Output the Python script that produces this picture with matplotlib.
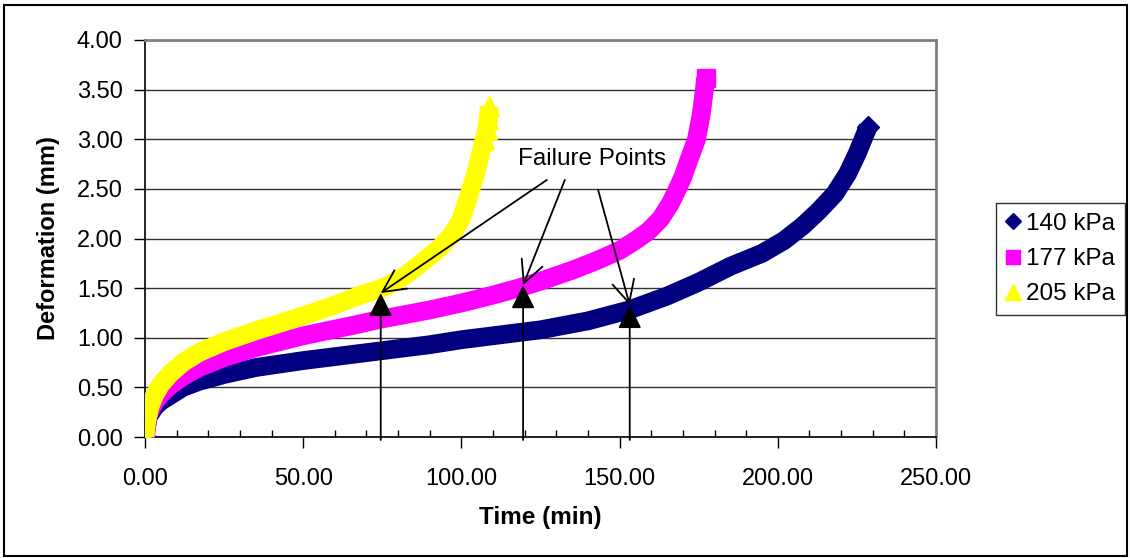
import matplotlib
matplotlib.use("Agg")
import matplotlib.pyplot as plt
from matplotlib.patches import Rectangle
from matplotlib.lines import Line2D

plt.rcParams['font.family'] = ['Liberation Sans', 'DejaVu Sans']

# ---- data ----
t_140 = [0, 1, 3, 5, 8, 12, 17, 25, 35, 50, 65, 75, 90, 100, 115, 125, 140, 153,
         165, 175, 185, 195, 202, 208, 213, 218, 222, 225, 228.5]
d_140 = [0, 0.2, 0.3, 0.36, 0.42, 0.5, 0.56, 0.63, 0.7, 0.77, 0.83, 0.87, 0.93, 0.98,
         1.04, 1.08, 1.17, 1.28, 1.42, 1.56, 1.72, 1.85, 1.98, 2.13, 2.28, 2.45, 2.65,
         2.85, 3.12]

t_177 = [0, 1, 3, 5, 8, 12, 17, 25, 35, 50, 65, 75, 90, 100, 110, 118, 125, 135, 143,
         150, 155, 159, 163, 166, 168, 170, 172, 174.3, 175.8, 176.8, 177.2]
d_177 = [0, 0.22, 0.35, 0.43, 0.52, 0.61, 0.7, 0.8, 0.9, 1.02, 1.12, 1.19, 1.28, 1.35,
         1.43, 1.5, 1.57, 1.68, 1.78, 1.88, 1.98, 2.07, 2.2, 2.35, 2.48, 2.62, 2.8, 3.0,
         3.25, 3.5, 3.62]

t_205 = [0, 0.5, 1.5, 3, 5, 8, 12, 17, 25, 35, 50, 60, 68, 75, 82, 88, 93, 97, 100,
         102.5, 104.5, 106, 107.2, 108, 108.5, 108.8]
d_205 = [0, 0.15, 0.3, 0.42, 0.53, 0.64, 0.75, 0.85, 0.96, 1.07, 1.22, 1.33, 1.43, 1.5,
         1.62, 1.77, 1.9, 2.04, 2.2, 2.45, 2.65, 2.85, 3.0, 3.1, 3.2, 3.33]

series_labels = ['140 kPa', '177 kPa', '205 kPa']

fail_t = [74.5, 119.5, 153.2]
fail_d = [1.45, 1.53, 1.33]
annot_text = 'Failure Points'
annot_xy = (141.3, 2.80)
annot_starts = [(127.0, 2.59), (132.7, 2.59), (143.2, 2.49)]

x_ticks = [0, 50, 100, 150, 200, 250]
y_ticks = [0, 0.5, 1.0, 1.5, 2.0, 2.5, 3.0, 3.5, 4.0]

colors = ['#000080', '#FF00FF', '#FFFF00']
markers = ['D', 's', '^']
band_ms = [11, 13, 14]
leg_ms = [8, 10.5, 11]

# ---- figure ----
fig = plt.figure(figsize=(11.3, 5.58), dpi=100)
ax = fig.add_axes([145/1130, 1-437/558, (936-145)/1130, (437-40)/558])

fs = 17
for tt, dd, c, m, ms, lab in zip([t_140, t_177, t_205], [d_140, d_177, d_205],
                                  colors, markers, band_ms, series_labels):
    n = len(tt)
    every = [0, n - 1] if m != '^' else [0, n - 4, n - 3, n - 2, n - 1]
    ax.plot(tt, dd, color=c, lw=13.5, solid_joinstyle='round',
            solid_capstyle='butt', label=lab, zorder=3)
    ax.plot(tt, dd, color=c, ls='none', marker=m, ms=ms, mec=c,
            markevery=every, zorder=3)

# failure point arrows (vertical, solid heads)
for ft, fd in zip(fail_t, fail_d):
    ax.annotate('', xy=(ft, fd), xytext=(ft, -0.03), xycoords='data',
                arrowprops=dict(arrowstyle='-|>,head_length=1.0,head_width=0.5',
                                mutation_scale=14.5, color='black', lw=1.3,
                                shrinkA=0, shrinkB=0),
                annotation_clip=False, zorder=5)

# text annotation with open arrows
ax.text(annot_xy[0], annot_xy[1], annot_text, fontsize=17.5, ha='center', va='center', zorder=6)
for (sx, sy), ft, fd in zip(annot_starts, fail_t, fail_d):
    ax.annotate('', xy=(ft, fd), xytext=(sx, sy),
                arrowprops=dict(arrowstyle='->,head_length=1.0,head_width=0.5',
                                mutation_scale=16, color='black', lw=1.3,
                                shrinkA=0, shrinkB=0), zorder=6)

ax.set_xlim(0, 250)
ax.set_ylim(0, 4)
ax.set_xticks(x_ticks)
ax.set_xticklabels([f'{v:.2f}' for v in x_ticks], fontsize=fs)
ax.set_yticks(y_ticks)
ax.set_yticklabels([f'{v:.2f}' for v in y_ticks], fontsize=fs)
ax.set_xticks(range(0, 251, 10), minor=True)
ax.tick_params(axis='x', which='major', direction='out', length=8, width=1, pad=14)
ax.tick_params(axis='x', which='minor', direction='in', length=5, width=1)
ax.tick_params(axis='y', which='major', direction='out', length=8, width=1, pad=8)
ax.yaxis.grid(True, color='#333333', lw=1)
ax.set_axisbelow(True)

for s in ['top', 'right']:
    ax.spines[s].set_color('#808080')
    ax.spines[s].set_linewidth(2)
for s in ['left', 'bottom']:
    ax.spines[s].set_color('black')
    ax.spines[s].set_linewidth(1.2)

ax.set_xlabel('Time (min)', fontsize=17.5, fontweight='bold', labelpad=12)
ax.set_ylabel('Deformation (mm)', fontsize=17, fontweight='bold', labelpad=12)

# legend with single markers
handles = [Line2D([], [], color=c, marker=m, ls='none', ms=s)
           for c, m, s in zip(colors, markers, leg_ms)]
leg = fig.legend(handles, series_labels, loc='upper left',
                 bbox_to_anchor=(996/1130, 1-203/558), fontsize=17.5,
                 frameon=True, fancybox=False, edgecolor='black', handlelength=0.6,
                 handletextpad=0.25, borderpad=0.4, labelspacing=0.55, borderaxespad=0)
leg.get_frame().set_linewidth(1)

# outer border
fig.patches.append(Rectangle((4/1130, 2/558), (1127-4)/1130, (553-2)/558,
                             transform=fig.transFigure, fill=False,
                             edgecolor='black', lw=1.5))

fig.savefig('out.png', dpi=100)
